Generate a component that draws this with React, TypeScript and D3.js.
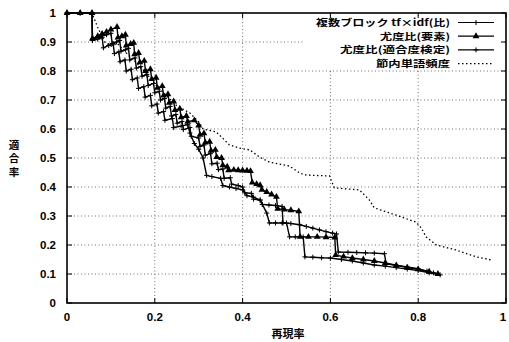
import React from 'react';
import * as d3 from 'd3';

// ---- data (recall, precision) ----
const seriesNames = ['複数ブロック tf×idf(比)', '尤度比(要素)', '尤度比(適合度検定)', '節内単語頻度'];

const tfidfPoints: [number, number][] = [
  [0,1],[0.03,1],[0.057,1],[0.058,0.91],[0.075,0.918],[0.09,0.925],[0.1,0.93],[0.103,0.895],[0.113,0.9],[0.12,0.905],
  [0.123,0.868],[0.133,0.873],[0.14,0.878],[0.143,0.838],[0.155,0.845],[0.158,0.81],[0.168,0.815],[0.171,0.782],
  [0.182,0.788],[0.185,0.75],[0.197,0.757],[0.2,0.725],[0.21,0.73],[0.213,0.7],[0.222,0.705],[0.225,0.672],
  [0.235,0.678],[0.238,0.645],[0.248,0.65],[0.251,0.62],[0.262,0.626],[0.265,0.598],[0.28,0.605],[0.283,0.575],
  [0.3,0.569],[0.303,0.54],[0.312,0.545],[0.315,0.51],[0.327,0.515],[0.33,0.48],[0.342,0.482],[0.345,0.46],
  [0.355,0.462],[0.358,0.43],[0.372,0.432],[0.375,0.41],[0.39,0.405],[0.4,0.4],[0.405,0.38],[0.42,0.378],
  [0.425,0.358],[0.44,0.355],[0.445,0.34],[0.46,0.338],[0.475,0.336],[0.49,0.333],[0.492,0.276],[0.51,0.274],
  [0.53,0.27],[0.545,0.264],[0.56,0.258],[0.575,0.252],[0.59,0.246],[0.605,0.241],[0.614,0.238],[0.618,0.176],
  [0.64,0.175],[0.66,0.174],[0.68,0.173],[0.7,0.172],[0.723,0.17],[0.727,0.135],[0.75,0.13],[0.775,0.124],
  [0.8,0.118],[0.82,0.11],[0.835,0.104]
];

const elementPoints: [number, number][] = [
  [0,1],[0.03,1],[0.057,1],[0.058,0.912],[0.07,0.92],[0.08,0.928],[0.09,0.935],[0.1,0.943],[0.114,0.952],
  [0.116,0.915],[0.125,0.92],[0.133,0.925],[0.135,0.888],[0.145,0.893],[0.152,0.897],[0.154,0.858],[0.163,0.862],
  [0.166,0.83],[0.176,0.835],[0.179,0.8],[0.19,0.806],[0.193,0.772],[0.203,0.777],[0.206,0.742],[0.217,0.748],
  [0.22,0.715],[0.23,0.72],[0.233,0.69],[0.243,0.695],[0.246,0.665],[0.257,0.67],[0.26,0.64],[0.272,0.645],
  [0.275,0.625],[0.29,0.63],[0.3,0.612],[0.303,0.58],[0.312,0.585],[0.315,0.553],[0.325,0.556],[0.328,0.525],
  [0.338,0.528],[0.341,0.503],[0.352,0.5],[0.355,0.475],[0.365,0.47],[0.368,0.458],[0.38,0.459],[0.39,0.458],
  [0.4,0.457],[0.41,0.456],[0.418,0.455],[0.422,0.415],[0.432,0.41],[0.44,0.406],[0.444,0.39],[0.455,0.383],
  [0.466,0.374],[0.477,0.366],[0.48,0.325],[0.495,0.322],[0.51,0.32],[0.528,0.316],[0.531,0.228],[0.55,0.228],
  [0.57,0.228],[0.59,0.227],[0.61,0.226],[0.612,0.165],[0.63,0.16],[0.65,0.155],[0.675,0.15],[0.7,0.145],
  [0.725,0.138],[0.75,0.13],[0.775,0.122],[0.8,0.116],[0.825,0.108],[0.845,0.1]
];

const fitnessPoints: [number, number][] = [
  [0,1],[0.03,1],[0.057,1],[0.058,0.905],[0.07,0.91],[0.08,0.916],[0.083,0.88],[0.095,0.888],[0.105,0.895],
  [0.108,0.86],[0.118,0.866],[0.121,0.832],[0.132,0.838],[0.135,0.8],[0.146,0.806],[0.149,0.77],[0.16,0.776],
  [0.163,0.74],[0.175,0.746],[0.178,0.71],[0.19,0.716],[0.193,0.68],[0.205,0.686],[0.208,0.655],[0.22,0.66],
  [0.223,0.63],[0.24,0.636],[0.243,0.605],[0.26,0.61],[0.275,0.615],[0.28,0.586],[0.29,0.55],[0.3,0.53],
  [0.31,0.5],[0.318,0.44],[0.33,0.436],[0.35,0.43],[0.355,0.405],[0.37,0.4],[0.385,0.395],[0.4,0.39],
  [0.41,0.37],[0.425,0.365],[0.44,0.355],[0.445,0.34],[0.455,0.31],[0.461,0.276],[0.475,0.276],[0.49,0.276],
  [0.5,0.276],[0.507,0.228],[0.52,0.228],[0.538,0.228],[0.542,0.159],[0.56,0.158],[0.58,0.156],[0.6,0.155],
  [0.625,0.15],[0.65,0.145],[0.675,0.138],[0.7,0.131],[0.725,0.127],[0.75,0.122],[0.775,0.117],[0.8,0.112],
  [0.825,0.104],[0.85,0.097]
];

const wordFreqPoints: [number, number][] = [
  [0,1],[0.057,1],[0.07,0.95],[0.086,0.9],[0.1,0.885],[0.115,0.895],[0.13,0.87],[0.15,0.84],[0.17,0.81],
  [0.19,0.775],[0.21,0.74],[0.23,0.71],[0.25,0.68],[0.268,0.665],[0.28,0.655],[0.29,0.64],[0.302,0.621],
  [0.31,0.6],[0.34,0.59],[0.37,0.545],[0.393,0.534],[0.416,0.528],[0.439,0.503],[0.461,0.486],[0.507,0.472],
  [0.53,0.448],[0.545,0.441],[0.598,0.438],[0.609,0.397],[0.666,0.39],[0.689,0.355],[0.7,0.328],[0.75,0.303],
  [0.795,0.279],[0.807,0.259],[0.818,0.228],[0.841,0.2],[0.886,0.183],[0.932,0.159],[0.968,0.148]
];

const xTicks = [0, 0.2, 0.4, 0.6, 0.8, 1];
const xTickLabels = ['0', '0.2', '0.4', '0.6', '0.8', '1'];
const yTicks = [0, 0.1, 0.2, 0.3, 0.4, 0.5, 0.6, 0.7, 0.8, 0.9, 1];
const yTickLabels = ['0', '0.1', '0.2', '0.3', '0.4', '0.5', '0.6', '0.7', '0.8', '0.9', '1'];

const xTitle = '再現率';
const yTitle = ['適', '合', '率'];

const W = 509, H = 342;
const L = 67, R = 506, T = 13, B = 303;

const NUM_FONT = "'Liberation Sans', Arial, sans-serif";
const JP_FONT = "'Noto Sans CJK JP', sans-serif";

export default function App() {
  const x = d3.scaleLinear().domain([0, 1]).range([L, R]);
  const y = d3.scaleLinear().domain([0, 1]).range([B, T]);
  const line = d3.line<[number, number]>().x(d => x(d[0])).y(d => y(d[1]));
  const tri = d3.symbol(d3.symbolTriangle, 20)() as string;
  const plus = 'M-2.5,0H2.5M0,-2.5V2.5';

  const solid = [
    { pts: tfidfPoints, marker: 'plus' },
    { pts: elementPoints, marker: 'tri' },
    { pts: fitnessPoints, marker: 'plus' },
  ];

  const legendRows = [22.5, 36.2, 49.9, 63.6];
  const legendWidths = [134, 70, 110, 74];

  return (
    <svg width={W} height={H} style={{ position: 'absolute', left: 0, top: 0, background: '#fff' }}>
      <rect x={0} y={0} width={W} height={H} fill="#fff" />
      {/* grid */}
      <g stroke="#333" strokeWidth={0.7} strokeDasharray="1,2.5">
        {xTicks.slice(1, -1).map(t => (
          <line key={'gx' + t} x1={x(t)} x2={x(t)} y1={B} y2={T} />
        ))}
        {yTicks.slice(1, -1).map(t => (
          <line key={'gy' + t} x1={L} x2={R} y1={y(t)} y2={y(t)} />
        ))}
      </g>
      {/* legend background */}
      <rect x={305} y={16} width={198} height={54} fill="#fff" />
      {/* ticks */}
      <g stroke="#000" strokeWidth={1}>
        {xTicks.map(t => (
          <g key={'tx' + t}>
            <line x1={x(t)} x2={x(t)} y1={B} y2={B - 5} />
            <line x1={x(t)} x2={x(t)} y1={T} y2={T + 5} />
          </g>
        ))}
        {yTicks.map(t => (
          <g key={'ty' + t}>
            <line x1={L} x2={L + 5} y1={y(t)} y2={y(t)} />
            <line x1={R} x2={R - 5} y1={y(t)} y2={y(t)} />
          </g>
        ))}
      </g>
      {/* series */}
      <path d={line(wordFreqPoints) as string} fill="none" stroke="#000" strokeWidth={1.3} strokeDasharray="1.5,2.5" />
      {solid.map((s, i) => (
        <g key={'s' + i}>
          <path d={line(s.pts) as string} fill="none" stroke="#000" strokeWidth={1.4} />
          {s.pts.map((p, j) =>
            s.marker === 'tri' ? (
              <path key={j} d={tri} transform={`translate(${x(p[0])},${y(p[1])})`} fill="#000" />
            ) : (
              <path key={j} d={plus} transform={`translate(${x(p[0])},${y(p[1])})`} stroke="#000" strokeWidth={1} fill="none" />
            )
          )}
        </g>
      ))}
      {/* border */}
      <rect x={L} y={T} width={R - L} height={B - T} fill="none" stroke="#000" strokeWidth={1.6} />
      {/* tick labels */}
      <g fontFamily={NUM_FONT} fontWeight="bold" fontSize={11.5} fill="#000">
        {yTicks.map((t, i) => (
          <text key={'ly' + t} x={56} y={y(t)} dy="0.36em" textAnchor="end">{yTickLabels[i]}</text>
        ))}
        {xTicks.map((t, i) => (
          <text key={'lx' + t} x={Math.min(x(t), 503)} y={321} textAnchor="middle">{xTickLabels[i]}</text>
        ))}
      </g>
      {/* axis titles */}
      <text x={288} y={338} textAnchor="middle" fontFamily={JP_FONT} fontWeight="bold" fontSize={11}>{xTitle}</text>
      {yTitle.map((c, i) => (
        <text key={'yt' + i} x={14} y={145 + i * 13.5} dy="0.36em" textAnchor="middle" fontFamily={JP_FONT} fontWeight="bold" fontSize={10.5}>{c}</text>
      ))}
      {/* legend */}
      {seriesNames.map((name, i) => (
        <g key={'lg' + i}>
          <text x={450} y={legendRows[i]} dy="0.36em" textAnchor="end" fontFamily={JP_FONT} fontWeight="bold" fontSize={9.4}
            textLength={legendWidths[i]} lengthAdjust="spacingAndGlyphs">{name}</text>
          {i < 3 ? (
            <g>
              <line x1={458} x2={494} y1={legendRows[i]} y2={legendRows[i]} stroke="#000" strokeWidth={1.2} />
              {i === 1 ? (
                <path d={tri} transform={`translate(476,${legendRows[i]})`} fill="#000" />
              ) : (
                <path d={plus} transform={`translate(476,${legendRows[i]})`} stroke="#000" strokeWidth={1} />
              )}
            </g>
          ) : (
            <line x1={458} x2={494} y1={legendRows[i]} y2={legendRows[i]} stroke="#000" strokeWidth={1.2} strokeDasharray="1.5,2.5" />
          )}
        </g>
      ))}
    </svg>
  );
}
